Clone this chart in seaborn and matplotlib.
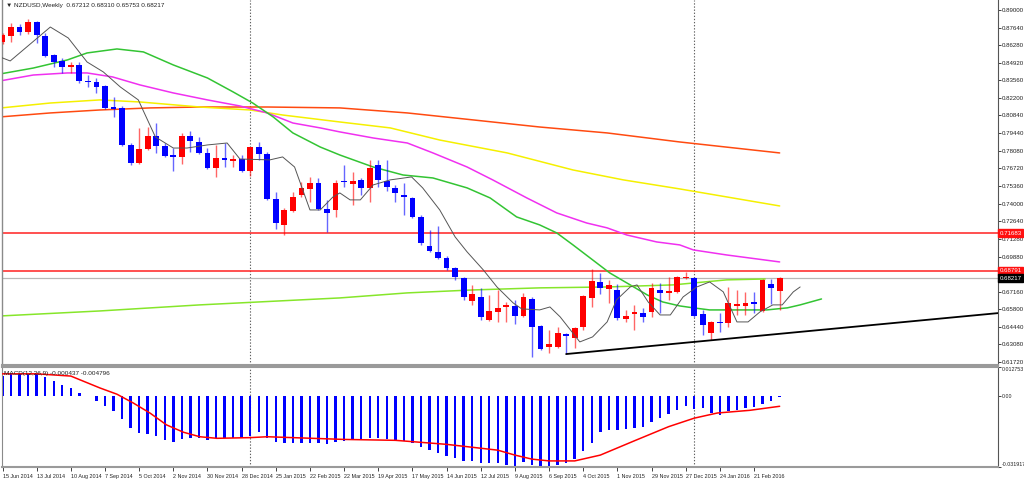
import numpy as np
import pandas as pd
import matplotlib
matplotlib.use("Agg")
import matplotlib.pyplot as plt
import matplotlib.transforms as mtransforms
from matplotlib import font_manager
import seaborn as sns

# ---------------- data ----------------
start_date = "2014-06-15"

opens = [0.8652, 0.8698, 0.8768, 0.8729, 0.8807, 0.8698, 0.8551, 0.8505, 0.8458, 0.8474,
         0.8350, 0.8342, 0.8311, 0.8148, 0.8140, 0.7853, 0.7714, 0.7822, 0.7923, 0.7846,
         0.7776, 0.7760, 0.7923, 0.7877, 0.7791, 0.7675, 0.7753, 0.7729, 0.7745, 0.7652,
         0.7838, 0.7784, 0.7435, 0.7233, 0.7342, 0.7466, 0.7512, 0.7559, 0.7357, 0.7350,
         0.7574, 0.7551, 0.7582, 0.7520, 0.7698, 0.7574, 0.7520, 0.7466, 0.7443, 0.7295,
         0.7071, 0.7024, 0.6978, 0.6900, 0.6822, 0.6644, 0.6675, 0.6497, 0.6559, 0.6598,
         0.6605, 0.6528, 0.6660, 0.6450, 0.6288, 0.6288, 0.6388, 0.6357, 0.6443, 0.6667,
         0.6791, 0.6737, 0.6729, 0.6505, 0.6543, 0.6551, 0.6559, 0.6729, 0.6706, 0.6714,
         0.6822, 0.6822, 0.6543, 0.6396, 0.6481, 0.6474, 0.6605, 0.6605, 0.6636, 0.6567,
         0.6776, 0.67212]
highs = [0.8720, 0.8799, 0.8791, 0.8830, 0.8815, 0.8722, 0.8559, 0.8528, 0.8497, 0.8497,
         0.8396, 0.8373, 0.8319, 0.8226, 0.8156, 0.7869, 0.7985, 0.7993, 0.8024, 0.7869,
         0.7830, 0.7947, 0.7962, 0.7915, 0.7830, 0.7853, 0.7869, 0.7776, 0.7776, 0.7840,
         0.7877, 0.7799, 0.7489, 0.7365, 0.7489, 0.7567, 0.7605, 0.7598, 0.7427, 0.7582,
         0.7698, 0.7644, 0.7598, 0.7737, 0.7737, 0.7737, 0.7543, 0.7559, 0.7450, 0.7311,
         0.7195, 0.7226, 0.6993, 0.6908, 0.6830, 0.6768, 0.6745, 0.6691, 0.6729, 0.6636,
         0.6652, 0.6706, 0.6675, 0.6458, 0.6419, 0.6443, 0.6396, 0.6443, 0.6691, 0.6892,
         0.6861, 0.6807, 0.6776, 0.6575, 0.6613, 0.6590, 0.6784, 0.6784, 0.6830, 0.6838,
         0.6869, 0.6830, 0.6575, 0.6489, 0.6551, 0.6753, 0.6729, 0.6714, 0.6714, 0.6815,
         0.6815, 0.68310]
lows = [0.8640, 0.8652, 0.8706, 0.8714, 0.8644, 0.8536, 0.8458, 0.8412, 0.8412, 0.8334,
        0.8303, 0.8257, 0.8133, 0.8071, 0.7846, 0.7698, 0.7706, 0.7815, 0.7791, 0.7760,
        0.7652, 0.7706, 0.7799, 0.7784, 0.7670, 0.7605, 0.7683, 0.7683, 0.7644, 0.7613,
        0.7737, 0.7427, 0.7202, 0.7156, 0.7334, 0.7450, 0.7412, 0.7350, 0.7179, 0.7295,
        0.7528, 0.7388, 0.7466, 0.7412, 0.7528, 0.7497, 0.7412, 0.7311, 0.7288, 0.7078,
        0.7024, 0.6970, 0.6884, 0.6807, 0.6652, 0.6613, 0.6497, 0.6489, 0.6481, 0.6481,
        0.6466, 0.6520, 0.6210, 0.6264, 0.6241, 0.6280, 0.6233, 0.6280, 0.6419, 0.6598,
        0.6698, 0.6629, 0.6497, 0.6481, 0.6419, 0.6481, 0.6520, 0.6551, 0.6652, 0.6706,
        0.6815, 0.6520, 0.6381, 0.6342, 0.6404, 0.6443, 0.6536, 0.6536, 0.6551, 0.6559,
        0.6621, 0.65753]
closes = [0.8706, 0.8768, 0.8729, 0.8807, 0.8706, 0.8543, 0.8497, 0.8458, 0.8474, 0.8350,
          0.8342, 0.8303, 0.8140, 0.8133, 0.7853, 0.7714, 0.7822, 0.7923, 0.7846, 0.7768,
          0.7760, 0.7923, 0.7884, 0.7791, 0.7675, 0.7753, 0.7737, 0.7745, 0.7652, 0.7838,
          0.7784, 0.7435, 0.7249, 0.7350, 0.7450, 0.7520, 0.7559, 0.7357, 0.7326, 0.7559,
          0.7567, 0.7574, 0.7520, 0.7675, 0.7582, 0.7528, 0.7481, 0.7450, 0.7295, 0.7094,
          0.7032, 0.6978, 0.6900, 0.6830, 0.6675, 0.6698, 0.6520, 0.6567, 0.6590, 0.6613,
          0.6528, 0.6675, 0.6443, 0.6272, 0.6311, 0.6396, 0.6373, 0.6435, 0.6683, 0.6799,
          0.6745, 0.6768, 0.6512, 0.6528, 0.6559, 0.6520, 0.6745, 0.6706, 0.6722, 0.6830,
          0.6830, 0.6528, 0.6458, 0.6481, 0.6474, 0.6629, 0.6621, 0.6629, 0.6621, 0.6807,
          0.6745, 0.68217]

# moving averages (position in weeks, price)
fast_ma_x = [-0.3, 0.9, 5.6, 7.7, 9.9, 11.8, 13.8, 15.9, 17.9, 20.0, 21.6, 24.0, 26.3, 27.8,
             31.3, 32.8, 34.2, 36.0, 37.2, 38.7, 39.5, 40.7, 41.9, 43.4, 45.4, 47.9, 49.2,
             51.2, 53.0, 54.4, 56.3, 57.9, 59.8, 60.8, 62.9, 64.1, 65.3, 66.5, 67.6, 69.1,
             70.8, 71.9, 73.5, 74.3, 75.6, 77.0, 78.2, 79.7, 81.3, 82.8, 84.4, 86.0, 87.3,
             88.7, 90.2, 91.3, 92.6, 93.4]
fast_ma_y = [0.8536, 0.8505, 0.8768, 0.8683, 0.8497, 0.8420, 0.8303, 0.8203, 0.7916, 0.7830,
             0.7830, 0.7854, 0.7869, 0.7745, 0.7738, 0.7761, 0.7683, 0.7350, 0.7350, 0.7451,
             0.7482, 0.7428, 0.7428, 0.7544, 0.7583, 0.7606, 0.7521, 0.7350, 0.7141, 0.7025,
             0.6885, 0.6753, 0.6629, 0.6583, 0.6575, 0.6598, 0.6521, 0.6420, 0.6327, 0.6366,
             0.6482, 0.6653, 0.6753, 0.6769, 0.6637, 0.6536, 0.6536, 0.6676, 0.6753, 0.6792,
             0.6715, 0.6482, 0.6482, 0.6560, 0.6614, 0.6614, 0.6715, 0.6753]

green_ma_x = [-0.3, 3.6, 7.6, 9.9, 13.4, 16.5, 20.0, 24.0, 27.0, 29.3, 31.7, 34.0, 37.2, 39.5,
              43.4, 46.9, 50.4, 54.4, 57.1, 60.2, 62.9, 64.9, 66.8, 69.1, 71.1, 73.5, 75.5,
              77.3, 79.3, 80.9, 82.8, 86.7, 89.5, 91.9, 93.4, 95.9]
green_ma_y = [0.8404, 0.8450, 0.8513, 0.8567, 0.8598, 0.8575, 0.8474, 0.8373, 0.8265, 0.8179,
              0.8071, 0.7947, 0.7838, 0.7776, 0.7683, 0.7621, 0.7598, 0.7521, 0.7443, 0.7296,
              0.7234, 0.7172, 0.7079, 0.6963, 0.6862, 0.6769, 0.6691, 0.6637, 0.6606, 0.6591,
              0.6575, 0.6575, 0.6575, 0.6591, 0.6614, 0.6660]

magenta_ma_x = [-0.3, 3.6, 7.6, 9.9, 12.9, 16.1, 20.0, 24.0, 27.8, 31.0, 34.0, 37.2, 39.5,
                43.4, 47.4, 50.4, 54.4, 57.4, 61.4, 64.9, 68.4, 70.8, 73.1, 76.6, 79.3, 80.9,
                84.8, 91.0]
magenta_ma_y = [0.8350, 0.8396, 0.8412, 0.8412, 0.8381, 0.8319, 0.8257, 0.8203, 0.8156, 0.8102,
                0.8024, 0.7986, 0.7955, 0.7908, 0.7869, 0.7792, 0.7683, 0.7583, 0.7443, 0.7327,
                0.7249, 0.7211, 0.7156, 0.7102, 0.7079, 0.7040, 0.7001, 0.6947]

yellow_ma_x = [-0.3, 5.6, 11.4, 16.1, 23.1, 29.0, 32.8, 39.5, 45.4, 51.2, 59.1, 66.8, 72.7,
               79.3, 91.0]
yellow_ma_y = [0.8140, 0.8179, 0.8203, 0.8187, 0.8148, 0.8125, 0.8086, 0.8032, 0.7986, 0.7892,
               0.7792, 0.7660, 0.7583, 0.7513, 0.7381]

orange_ma_x = [-0.3, 5.6, 11.4, 17.3, 23.1, 31.0, 39.5, 47.4, 55.1, 62.9, 70.8, 79.3, 91.0]
orange_ma_y = [0.8071, 0.8102, 0.8125, 0.8141, 0.8148, 0.8148, 0.8141, 0.8102, 0.8048, 0.7993,
               0.7947, 0.7877, 0.7792]

lime_ma_x = [-0.3, 11.4, 23.1, 39.5, 47.4, 55.1, 62.9, 70.8, 78.5, 84.8, 89.3]
lime_ma_y = [0.6528, 0.6567, 0.6614, 0.6668, 0.6707, 0.6730, 0.6746, 0.6753, 0.6769, 0.6808,
             0.6815]

trend_x = [66, 117]
trend_y = [0.6233, 0.6553]

level_lines = [0.71683, 0.68791]
bid_price = 0.68217

price_ticks = [0.89000, 0.87640, 0.86280, 0.84920, 0.83560, 0.82200, 0.80840, 0.79440,
               0.78080, 0.76720, 0.75360, 0.74000, 0.72640, 0.71280, 0.69880, 0.67160,
               0.65800, 0.64440, 0.63080, 0.61720]

macd_hist = [0.0087, 0.0095, 0.0095, 0.0097, 0.0095, 0.0083, 0.0065, 0.0046, 0.0032, 0.0012,
             -0.0003, -0.0023, -0.0048, -0.0068, -0.0104, -0.0143, -0.0166, -0.0173, -0.0179, -0.0199,
             -0.0206, -0.0194, -0.0188, -0.0191, -0.0199, -0.0191, -0.0188, -0.0188, -0.0191, -0.0179,
             -0.0164, -0.0188, -0.0206, -0.0214, -0.0214, -0.0214, -0.0210, -0.0214, -0.0218, -0.0208,
             -0.0204, -0.0200, -0.0200, -0.0190, -0.0190, -0.0194, -0.0198, -0.0203, -0.0212, -0.0228,
             -0.0242, -0.0256, -0.0268, -0.0278, -0.0292, -0.0294, -0.0302, -0.0300, -0.0302, -0.0310,
             -0.0315, -0.0296, -0.0310, -0.0319, -0.0318, -0.0310, -0.0300, -0.0282, -0.0248, -0.0211,
             -0.0161, -0.0154, -0.0154, -0.0151, -0.0146, -0.0139, -0.0116, -0.0101, -0.0083, -0.0063,
             -0.0048, -0.0060, -0.0056, -0.0078, -0.0086, -0.0068, -0.0063, -0.0056, -0.0053, -0.0038,
             -0.0023, -0.000437]
signal_x = [0, 4, 8, 11.4, 13.4, 15.3, 17.3, 19.2, 21.2, 23.1, 25.1, 29, 31, 34, 40, 46, 52,
            58, 60, 62, 64, 67, 70, 74, 78, 81, 83.7, 87.5, 91]
signal_y = [0.0097, 0.0097, 0.0087, 0.0034, 0.0006, -0.0033, -0.0079, -0.0131, -0.0164, -0.0184,
            -0.0191, -0.0188, -0.0184, -0.0188, -0.0196, -0.0200, -0.0218, -0.0244, -0.0266,
            -0.0284, -0.0292, -0.0292, -0.0266, -0.0202, -0.0139, -0.0101, -0.0078, -0.0066,
            -0.004796]
macd_ticks = [0.012753, 0.0, -0.031917]
macd_tick_labels = ["0.012753", "0.00", "-0.031917"]

year_separators = [29, 81]

title_text = "\u25bc NZDUSD,Weekly  0.67212 0.68310 0.65753 0.68217"
macd_text = "MACD(12,26,9) -0.000437 -0.004796"

# ---------------- plotting ----------------
sns.set_style("white")
installed = {f.name for f in font_manager.fontManager.ttflist}
base_font = "Liberation Sans Narrow" if "Liberation Sans Narrow" in installed else "Liberation Sans"
plt.rcParams['font.family'] = [base_font, 'DejaVu Sans']
FS = 4.4
FS_DATE = 3.9
FS_MACD = 3.8

RIGHT_PX = 998
fig = plt.figure(figsize=(10.24, 4.79), dpi=100)
fig.patch.set_facecolor("white")
ax = fig.add_axes([2 / 1024, 1 - 365 / 479, (RIGHT_PX - 2) / 1024, 365 / 479])
axm = fig.add_axes([2 / 1024, 1 - 467 / 479, (RIGHT_PX - 2) / 1024, 100 / 479])
XMAX = (RIGHT_PX - 2.5) / 8.54

df = pd.DataFrame(dict(o=opens, h=highs, l=lows, c=closes))
df["idx"] = np.arange(len(df))
up = df["c"] >= df["o"]
cols = np.where(up, "#ff0000", "#0000ff")

# horizontal levels
for lv in level_lines:
    ax.axhline(lv, color="#ff2020", lw=1.1, zorder=1)
ax.axhline(bid_price, color="#b8b8b8", lw=0.9, zorder=1)

# year separators
for sx in year_separators:
    for a in (ax, axm):
        a.axvline(sx, color="#606060", lw=0.8, ls=(0, (1.2, 1.6)), zorder=0)

# moving averages
sns.lineplot(x=orange_ma_x, y=orange_ma_y, ax=ax, color="#ff4a10", lw=1.1, zorder=2)
sns.lineplot(x=yellow_ma_x, y=yellow_ma_y, ax=ax, color="#f5f000", lw=1.1, zorder=2)
sns.lineplot(x=magenta_ma_x, y=magenta_ma_y, ax=ax, color="#f030f0", lw=1.1, zorder=2)
sns.lineplot(x=green_ma_x, y=green_ma_y, ax=ax, color="#33c433", lw=1.1, zorder=2)
sns.lineplot(x=lime_ma_x, y=lime_ma_y, ax=ax, color="#86e62a", lw=1.1, zorder=2)

# candles
ax.vlines(df["idx"], df["l"], df["h"], colors=cols, lw=1.0, alpha=0.6, zorder=3)
body = np.maximum((df["c"] - df["o"]).abs(), 0.0006)
ax.bar(df["idx"], body, bottom=np.minimum(df["o"], df["c"]), width=0.68,
       color=cols, linewidth=0, zorder=4)

sns.lineplot(x=fast_ma_x, y=fast_ma_y, ax=ax, color="#555555", lw=0.7, zorder=5)
sns.lineplot(x=trend_x, y=trend_y, ax=ax, color="#000000", lw=1.3, zorder=5)

ax.set_xlim(-0.06, XMAX)
ax.set_ylim(0.89 - 355 / 1290, 0.89 + 10 / 1290)
ax.set_xticks([])
ax.yaxis.tick_right()
ax.set_yticks(price_ticks)
ax.set_yticklabels([f"{v:.5f}" for v in price_ticks])
ax.tick_params(axis="y", length=2.0, width=0.6, labelsize=FS, pad=0.8,
               colors="#222222", direction="out", right=True, left=False)
ax.set_xlabel("")
ax.set_ylabel("")
ax.spines["top"].set_visible(False)
ax.spines["left"].set_color("#8a8a8a")
ax.spines["left"].set_linewidth(1.0)
ax.spines["right"].set_color("#555555")
ax.spines["right"].set_linewidth(0.8)
ax.spines["bottom"].set_color("#9a9a9a")
ax.spines["bottom"].set_linewidth(1.5)

# price boxes on the axis
trans = mtransforms.blended_transform_factory(ax.transAxes, ax.transData)
for lv in level_lines:
    ax.text(1.0015, lv, f"{lv:.5f}", transform=trans, fontsize=FS, color="white",
            ha="left", va="center", clip_on=False, zorder=10,
            bbox=dict(boxstyle="square,pad=0.25", fc="#ff1010", ec="#ff1010"))
ax.text(1.0015, bid_price, f"{bid_price:.5f}", transform=trans, fontsize=FS, color="white",
        ha="left", va="center", clip_on=False, zorder=10,
        bbox=dict(boxstyle="square,pad=0.25", fc="#000000", ec="#000000"))

# MACD panel
axm.bar(np.arange(len(macd_hist)), macd_hist, width=0.28, color="#0000ff", linewidth=0, zorder=2)
sns.lineplot(x=signal_x, y=signal_y, ax=axm, color="#ff0000", lw=1.1, zorder=3)
axm.set_xlim(-0.06, XMAX)
axm.set_ylim(-0.031917, 0.012753)
axm.yaxis.tick_right()
axm.set_yticks(macd_ticks)
axm.set_yticklabels(macd_tick_labels)
axm.tick_params(axis="y", length=2.0, width=0.6, labelsize=FS_MACD, pad=0.6,
                colors="#222222", right=True, left=False)
ylabs = axm.get_yticklabels()
ylabs[0].set_va("top")
ylabs[-1].set_va("bottom")

dates = pd.date_range(start_date, periods=len(opens), freq="7D")
tick_idx = list(range(0, len(opens), 4))
axm.set_xticks(tick_idx)
axm.set_xticklabels([f"{dates[i].day} {dates[i].strftime('%b %Y')}" for i in tick_idx])
for lab in axm.get_xticklabels():
    lab.set_ha("left")
axm.tick_params(axis="x", length=3, width=0.6, labelsize=FS_DATE, pad=2,
                colors="#222222", bottom=True)
axm.set_xlabel("")
axm.set_ylabel("")
axm.spines["top"].set_color("#9a9a9a")
axm.spines["top"].set_linewidth(1.5)
axm.spines["left"].set_color("#8a8a8a")
axm.spines["right"].set_color("#555555")
axm.spines["right"].set_linewidth(0.8)
axm.spines["bottom"].set_color("#9a9a9a")
axm.spines["bottom"].set_linewidth(1.5)

fig.text(6 / 1024, 1 - 6 / 479, title_text, fontsize=FS + 0.2, va="center", ha="left", color="#222222")
fig.text(4 / 1024, 1 - 374 / 479, macd_text, fontsize=FS + 0.2, va="center", ha="left", color="#222222")

fig.savefig("out.png", dpi=100, facecolor="white")
